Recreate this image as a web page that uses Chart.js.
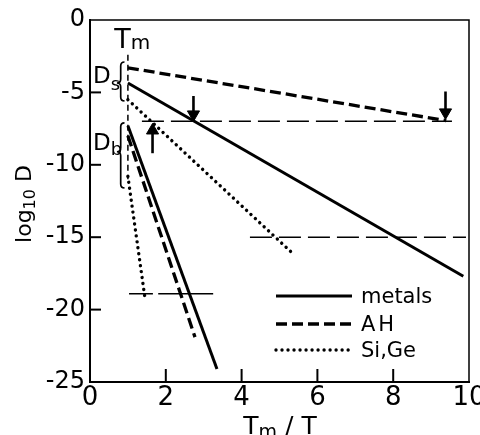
<!DOCTYPE html>
<html><head><meta charset="utf-8">
<script src="https://cdn.jsdelivr.net/npm/chart.js@4/dist/chart.umd.min.js"></script>
<style>html,body{margin:0;padding:0;background:#fff}canvas{display:block}</style>
</head><body>
<canvas id="c" width="480" height="435"></canvas>
<script>
// ---- data ----
const xTickValues = [0, 2, 4, 6, 8, 10];
const yTickValues = [-25, -20, -15, -10, -5, 0];
const metalsSurface = [{x:1, y:-4.35}, {x:9.85, y:-17.7}];
const metalsBulk    = [{x:1, y:-7.3},  {x:3.35, y:-24.1}];
const ahSurface     = [{x:1, y:-3.3},  {x:9.4,  y:-6.95}];
const ahBulk        = [{x:1, y:-8.0},  {x:2.77, y:-21.9}];
const siGeSurface   = [{x:1, y:-5.5},  {x:5.3,  y:-16.0}];
const siGeBulk      = [{x:1, y:-10.8}, {x:1.45, y:-19.2}];
const tmLine        = [{x:1, y:-2.4},  {x:1,    y:-11.0}];
const refLineA      = [{x:1.37, y:-7}, {x:9.55, y:-7}];
const refLineB      = [{x:4.22, y:-15},{x:9.92, y:-15}];
const refLineC      = [{x:1.03, y:-18.9},{x:1.66, y:-18.9},{x:1.73, y:null},{x:1.8, y:-18.9},{x:3.25, y:-18.9}];
const arrowA        = [{x:2.73, y:-5.25},{x:2.73, y:-6.52}];
const arrowB        = [{x:9.38, y:-4.93},{x:9.38, y:-6.38}];
const arrowC        = [{x:1.65, y:-9.2}, {x:1.65, y:-7.63}];
const legendLabels  = ['metals', 'AH', 'Si,Ge'];

const FONT = 'DejaVu Sans';
const solid  = {borderColor:'#000', borderWidth:3, borderDash:[], borderCapStyle:'butt'};
const dashed = {borderColor:'#000', borderWidth:3.3, borderDash:[11,5], borderCapStyle:'butt'};
const dotted = {borderColor:'#000', borderWidth:3.4, borderDash:[0.01,6], borderCapStyle:'round'};
const thinLong = {borderColor:'#000', borderWidth:1.5, borderDash:[22,7], borderCapStyle:'butt'};
const thinShort = {borderColor:'#000', borderWidth:1.5, borderDash:[6,4], borderCapStyle:'butt'};
const thinSolid = {borderColor:'#000', borderWidth:1.5, borderDash:[], borderCapStyle:'butt'};
function line(data, style){ return Object.assign({data, showLine:true, pointRadius:0, fill:false, spanGaps:false}, style); }
function arrow(data, up){ return Object.assign({data, showLine:true, fill:false,
  pointRadius:[0,7], pointStyle:'triangle', pointRotation:[0, up?0:180],
  pointBackgroundColor:'#000', pointBorderColor:'#000', pointBorderWidth:1}, {borderColor:'#000', borderWidth:2.6}); }

const datasets = [
  line(metalsSurface, solid),
  line(metalsBulk, solid),
  line(ahSurface, dashed),
  line(ahBulk, dashed),
  line(siGeSurface, dotted),
  line(siGeBulk, dotted),
  line(tmLine, thinShort),
  line(refLineA, thinLong),
  line(refLineB, thinLong),
  line(refLineC, thinSolid),
  arrow(arrowA, false),
  arrow(arrowB, false),
  arrow(arrowC, true)
];
const legendSets = [0, 2, 4];

function drawParts(ctx, parts, x, y, align){
  let total = 0;
  parts.forEach(p=>{ ctx.font = p.size+'px "'+FONT+'"'; p.w = ctx.measureText(p.t).width; total += p.w; });
  let cx = align==='center' ? x - total/2 : x;
  parts.forEach(p=>{ ctx.font = p.size+'px "'+FONT+'"'; ctx.fillText(p.t, cx, y + (p.dy||0)); cx += p.w; });
}
function brace(ctx, xr, xl, yt, yb, yc){
  const xm = (xr+xl)/2, w = 4;
  ctx.beginPath();
  ctx.moveTo(xr, yt);
  ctx.quadraticCurveTo(xm, yt, xm, yt+w);
  ctx.lineTo(xm, yc-w);
  ctx.quadraticCurveTo(xm, yc, xl, yc);
  ctx.quadraticCurveTo(xm, yc, xm, yc+w);
  ctx.lineTo(xm, yb-w);
  ctx.quadraticCurveTo(xm, yb, xr, yb);
  ctx.stroke();
}

const annotate = {
  id:'annotate',
  afterDraw(chart){
    const {ctx, chartArea:a, scales:{x, y}} = chart;
    ctx.save();
    ctx.strokeStyle = '#000'; ctx.fillStyle = '#000';
    // frame top/right
    ctx.lineWidth = 1.5;
    ctx.beginPath(); ctx.moveTo(a.left, a.top); ctx.lineTo(a.right, a.top); ctx.lineTo(a.right, a.bottom); ctx.stroke();
    // inward ticks
    ctx.lineWidth = 2;
    xTickValues.forEach(v=>{ if (v<=x.min || v>=x.max) return; const px = x.getPixelForValue(v);
      ctx.beginPath(); ctx.moveTo(px, a.bottom); ctx.lineTo(px, a.bottom-13); ctx.stroke(); });
    yTickValues.forEach(v=>{ if (v<=y.min || v>=y.max) return; const py = y.getPixelForValue(v);
      ctx.beginPath(); ctx.moveTo(a.left, py); ctx.lineTo(a.left+11, py); ctx.stroke(); });
    // braces
    ctx.lineWidth = 1.7;
    brace(ctx, x.getPixelForValue(0.91), x.getPixelForValue(0.71), y.getPixelForValue(-2.9), y.getPixelForValue(-5.59), y.getPixelForValue(-4.35));
    brace(ctx, x.getPixelForValue(0.91), x.getPixelForValue(0.71), y.getPixelForValue(-7.1), y.getPixelForValue(-11.6), y.getPixelForValue(-9.1));
    // labels
    ctx.textBaseline = 'alphabetic'; ctx.textAlign = 'left';
    drawParts(ctx, [{t:'T', size:27}, {t:'m', size:20, dy:1}], x.getPixelForValue(0.64), y.getPixelForValue(-1.93), 'left');
    drawParts(ctx, [{t:'D', size:23}, {t:'s', size:18, dy:7}], x.getPixelForValue(0.08), y.getPixelForValue(-4.35), 'left');
    drawParts(ctx, [{t:'D', size:23}, {t:'b', size:18, dy:5}], x.getPixelForValue(0.08), y.getPixelForValue(-8.97), 'left');
    // x axis title
    drawParts(ctx, [{t:'T', size:25}, {t:'m', size:19, dy:4}, {t:' / T', size:25}], 280, 434, 'center');
    // y axis title
    ctx.save();
    ctx.translate(31, 204); ctx.rotate(-Math.PI/2);
    drawParts(ctx, [{t:'log', size:22}, {t:'10', size:16, dy:4}, {t:' D', size:22}], 0, 0, 'center');
    ctx.restore();
    // legend
    const rows = [296, 324, 350];
    legendSets.forEach((di, i)=>{
      const ds = chart.data.datasets[di];
      ctx.save();
      ctx.lineWidth = ds.borderWidth; ctx.setLineDash(ds.borderDash||[]); ctx.lineCap = ds.borderCapStyle||'butt';
      ctx.beginPath(); ctx.moveTo(276, rows[i]); ctx.lineTo(352, rows[i]); ctx.stroke();
      ctx.restore();
      ctx.font = '21px "'+FONT+'"';
      ctx.letterSpacing = (i===1) ? '3px' : '0px';
      ctx.fillText(legendLabels[i], 361, rows[i]+7);
      ctx.letterSpacing = '0px';
    });
    ctx.restore();
  }
};

new Chart(document.getElementById('c'), {
  type:'scatter',
  data:{datasets},
  options:{
    responsive:false, animation:false, events:[],
    layout:{padding:{top:20, right:11, left:0, bottom:0}},
    plugins:{legend:{display:false}, tooltip:{enabled:false}},
    scales:{
      x:{type:'linear', min:0, max:10,
        afterBuildTicks:s=>{ s.ticks = xTickValues.map(v=>({value:v})); },
        afterFit:s=>{ s.height = 53; s.paddingLeft = 0; s.paddingRight = 0; },
        grid:{display:false, drawTicks:false},
        border:{display:true, color:'#000', width:2},
        ticks:{color:'#000', font:{family:FONT, size:26}, padding:1, maxRotation:0, autoSkip:false, callback:v=>String(v)}},
      y:{type:'linear', min:-25, max:0,
        afterBuildTicks:s=>{ s.ticks = yTickValues.map(v=>({value:v})); },
        afterFit:s=>{ s.width = 90; s.paddingTop = 0; s.paddingBottom = 0; },
        grid:{display:false, drawTicks:false},
        border:{display:true, color:'#000', width:2},
        ticks:{color:'#000', font:{family:FONT, size:24}, padding:5, autoSkip:false, callback:v=>String(v)}}
    }
  },
  plugins:[annotate]
});
</script>
</body></html>
